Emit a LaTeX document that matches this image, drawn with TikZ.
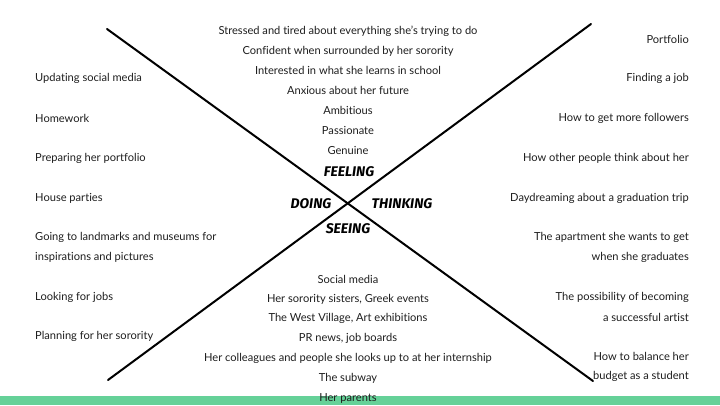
\documentclass[tikz,border=0pt]{standalone}
\usepackage{fontspec}
\setmainfont{Lato}[Ligatures=NoCommon]
\newfontfamily\handfont{Fira Sans}
\definecolor{barGreen}{RGB}{101,209,152}
\definecolor{txt}{RGB}{30,30,30}
\begin{document}
\begin{tikzpicture}[x=1pt,y=-1pt,
  item/.style={font=\fontsize{11.1}{12}\selectfont, text=txt, inner sep=0pt},
  litem/.style={item, anchor=west},
  ritem/.style={item, anchor=east},
  citem/.style={item, anchor=center},
  quad/.style={font=\handfont\bfseries\itshape\fontsize{14}{15}\selectfont, text=black, inner sep=0pt},
  axis/.style={line width=2pt, black, line cap=round}]
\useasboundingbox (0,0) rectangle (720,405);
\fill[white] (0,0) rectangle (720,405);
% bottom band
\fill[barGreen] (0,396) rectangle (720,405);

% the two crossing axes
\coordinate (tl) at (107,29);
\coordinate (br) at (593,381);
\coordinate (bl) at (108,380);
\coordinate (tr) at (591,24);
\draw[axis] (tl) -- (br);
\draw[axis] (bl) -- (tr);

% quadrant labels
\node[quad] (feeling) at (349,172) {FEELING};
\node[quad] (doing) at (311,204) {DOING};
\node[quad] (thinking) at (402,204) {THINKING};
\node[quad] (seeing) at (348,229) {SEEING};

\begin{scope}[yshift=-1.5pt]
% feeling
\node[citem] (f1) at (348,30) {Stressed and tired about everything she’s trying to do};
\node[citem] (f2) at (348,50) {Confident when surrounded by her sorority};
\node[citem] (f3) at (348,69) {Interested in what she learns in school};
\node[citem] (f4) at (348,89) {Anxious about her future};
\node[citem] (f5) at (348,109) {Ambitious};
\node[citem] (f6) at (348,129) {Passionate};
\node[citem] (f7) at (348,149) {Genuine};

% seeing
\node[citem] (s1) at (348,278) {Social media};
\node[citem] (s2) at (348,298) {Her sorority sisters, Greek events};
\node[citem] (s3) at (348,317) {The West Village, Art exhibitions};
\node[citem] (s4) at (348,337) {PR news, job boards};
\node[citem] (s5) at (348,357) {Her colleagues and people she looks up to at her internship};
\node[citem] (s6) at (348,377) {The subway};
\node[citem] (s7) at (348,397) {Her parents};

% doing
\node[litem] (d1) at (35,77) {Updating social media};
\node[litem] (d2) at (35,117) {Homework};
\node[litem] (d3) at (35,157) {Preparing her portfolio};
\node[litem] (d4) at (35,197) {House parties};
\node[litem] (d5) at (35,236) {Going to landmarks and museums for};
\node[litem] (d6) at (35,256) {inspirations and pictures};
\node[litem] (d7) at (35,296) {Looking for jobs};
\node[litem] (d8) at (35,335) {Planning for her sorority};

% thinking
\node[ritem] (t1) at (689,38) {Portfolio};
\node[ritem] (t2) at (689,77) {Finding a job};
\node[ritem] (t3) at (689,117) {How to get more followers};
\node[ritem] (t4) at (689,157) {How other people think about her};
\node[ritem] (t5) at (689,197) {Daydreaming about a graduation trip};
\node[ritem] (t6) at (689,236) {The apartment she wants to get};
\node[ritem] (t7) at (689,256) {when she graduates};
\node[ritem] (t8) at (689,296) {The possibility of becoming};
\node[ritem] (t9) at (689,316) {a successful artist};
\node[ritem] (t10) at (689,355) {How to balance her};
\node[ritem] (t11) at (689,375) {budget as a student};
\end{scope}
\end{tikzpicture}
\end{document}
